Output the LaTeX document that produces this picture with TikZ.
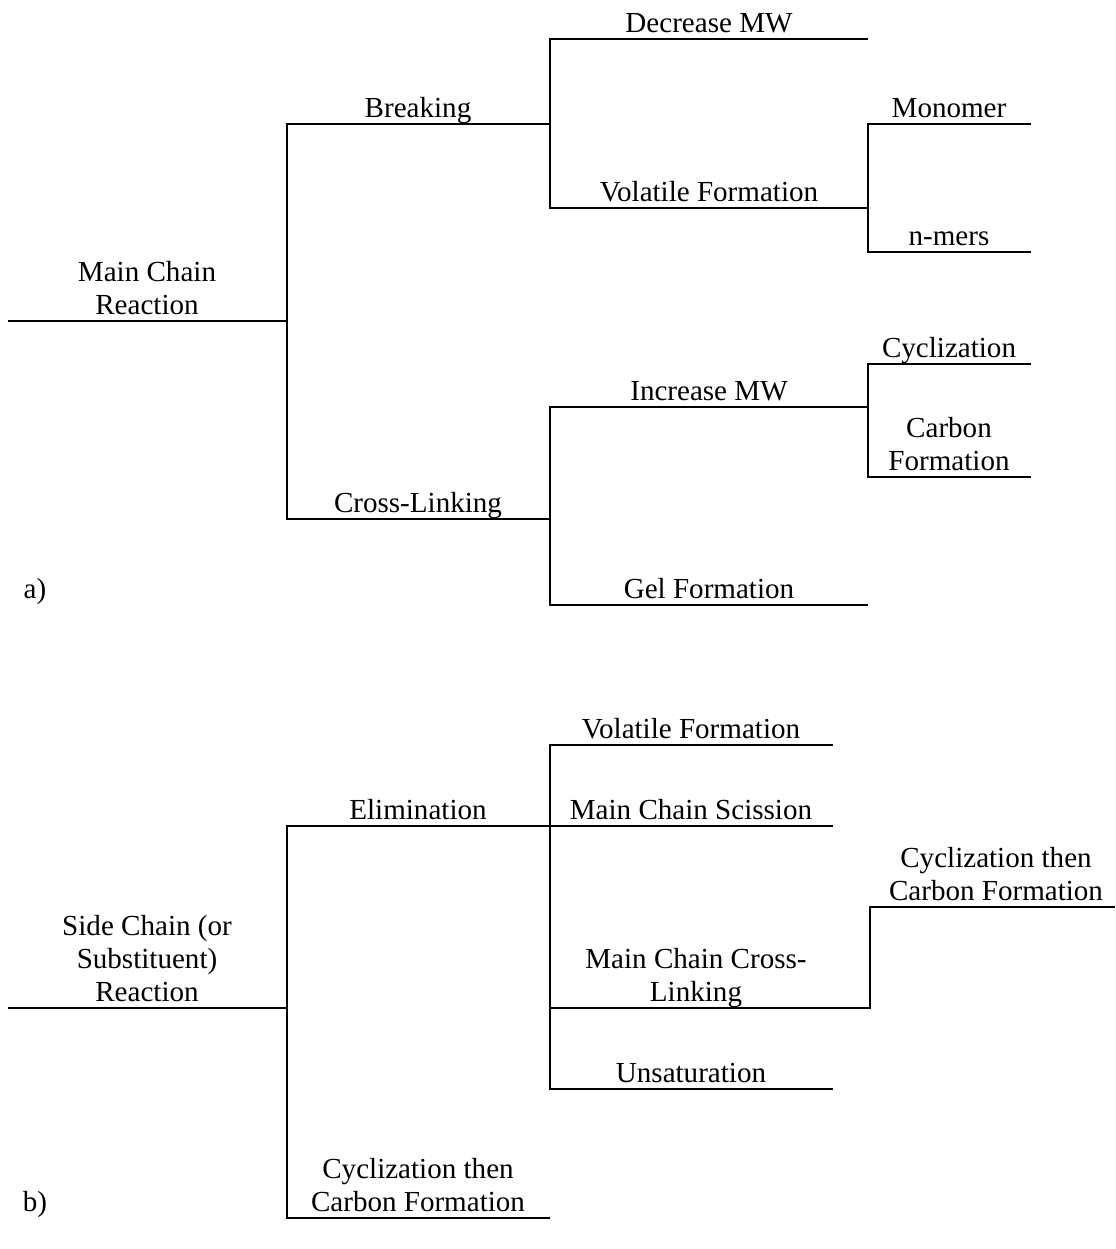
\documentclass[tikz,border=0pt]{standalone}
\usepackage{fontspec}
\setmainfont{Liberation Serif}
\begin{document}
\begin{tikzpicture}[x=0.75pt,y=-0.75pt,
  conn/.style={line width=1.5pt, line join=miter},
  lbl/.style={anchor=base, inner sep=0pt, align=center,
    font=\fontsize{21.8}{24.75}\selectfont}]
\useasboundingbox (0,0) rectangle (1115,1249);
% ---------- part a ----------
\coordinate (r0) at (8,321);
\coordinate (j1) at (287,321);
\coordinate (j1t) at (287,124);
\coordinate (j1b) at (287,519);
\coordinate (brk) at (550,124);
\coordinate (crs) at (550,519);
\coordinate (j2t) at (550,39);
\coordinate (j2b) at (550,208);
\coordinate (dec) at (868,39);
\coordinate (vol) at (868,208);
\coordinate (j3t) at (868,124);
\coordinate (j3b) at (868,252);
\coordinate (mon) at (1031,124);
\coordinate (nm) at (1031,252);
\coordinate (j4t) at (550,407);
\coordinate (j4b) at (550,605);
\coordinate (inc) at (868,407);
\coordinate (gel) at (868,605);
\coordinate (j5t) at (868,364);
\coordinate (j5b) at (868,477);
\coordinate (cyc) at (1031,364);
\coordinate (carb) at (1031,477);

\draw[conn] (r0) -- (j1);
\draw[conn] (brk) -- (j1t) -- (j1b) -- (crs);
\draw[conn] (dec) -- (j2t) -- (j2b) -- (vol);
\draw[conn] (mon) -- (j3t) -- (j3b) -- (nm);
\draw[conn] (inc) -- (j4t) -- (j4b) -- (gel);
\draw[conn] (cyc) -- (j5t) -- (j5b) -- (carb);

\node[lbl] (tmain) at (147,314) {Main Chain\\Reaction};
\node[lbl] (tbrk) at (418,117) {Breaking};
\node[lbl] (tcrs) at (418,512) {Cross-Linking};
\node[lbl] (tdec) at (709,32) {Decrease MW};
\node[lbl] (tvol) at (709,201) {Volatile Formation};
\node[lbl] (tmon) at (949,117) {Monomer};
\node[lbl] (tnm) at (949,245) {n-mers};
\node[lbl] (tinc) at (709,400) {Increase MW};
\node[lbl] (tgel) at (709,598) {Gel Formation};
\node[lbl] (tcyc) at (949,357) {Cyclization};
\node[lbl] (tcarb) at (949,470) {Carbon\\Formation};
\node[lbl] (ta) at (35,598) {a)};

% ---------- part b ----------
\coordinate (s0) at (8,1008);
\coordinate (k1) at (287,1008);
\coordinate (k1t) at (287,826);
\coordinate (k1b) at (287,1218);
\coordinate (elim) at (550,826);
\coordinate (cyc2) at (550,1218);
\coordinate (k2t) at (550,745);
\coordinate (k2b) at (550,1089);
\coordinate (vf) at (833,745);
\coordinate (mcs) at (833,826);
\coordinate (k2c) at (550,1008);
\coordinate (k3) at (870,1008);
\coordinate (k3t) at (870,907);
\coordinate (cc) at (1115,907);
\coordinate (uns) at (833,1089);

\draw[conn] (s0) -- (k1);
\draw[conn] (elim) -- (k1t) -- (k1b) -- (cyc2);
\draw[conn] (vf) -- (k2t) -- (k2b) -- (uns);
\draw[conn] (elim) -- (mcs);
\draw[conn] (k2c) -- (k3) -- (k3t) -- (cc);

\node[lbl] (tside) at (147,1001) {Side Chain (or\\Substituent)\\Reaction};
\node[lbl] (telim) at (418,819) {Elimination};
\node[lbl] (tcyc2) at (418,1211) {Cyclization then\\Carbon Formation};
\node[lbl] (tvf) at (691,738) {Volatile Formation};
\node[lbl] (tmcs) at (691,819) {Main Chain Scission};
\node[lbl] (tmcl) at (696,1001) {Main Chain Cross-\\Linking};
\node[lbl] (tuns) at (691,1082) {Unsaturation};
\node[lbl] (tcc) at (996,900) {Cyclization then\\Carbon Formation};
\node[lbl] (tb) at (35,1211) {b)};
\end{tikzpicture}
\end{document}
